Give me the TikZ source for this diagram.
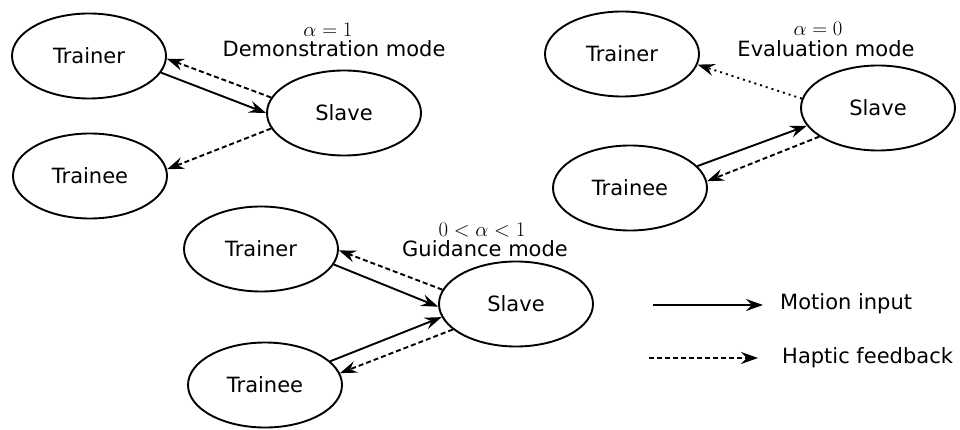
\documentclass[tikz,border=0pt]{standalone}
\usepackage{fontspec}
\setmainfont{DejaVu Sans}
\usetikzlibrary{shapes.geometric,arrows.meta}
\begin{document}
\begin{tikzpicture}[x=1pt,y=-1pt,
  txt/.style={font=\fontsize{21}{25}\selectfont},
  party/.style={ellipse,draw,line width=1.9pt,inner sep=0pt,
    minimum width=154pt,minimum height=85pt,txt},
  tip/.style={-{Stealth[length=17pt,width=12pt,inset=6pt]}},
  motion/.style={tip,line width=1.9pt},
  haptic/.style={tip,line width=1.9pt,dash pattern=on 5pt off 3pt},
  hapticdot/.style={tip,line width=1.9pt,dash pattern=on 2pt off 4pt},
  modelabel/.style={txt,align=center,inner sep=0pt}]
\useasboundingbox (0,0) rectangle (960,430);

% Demonstration mode
\node[party] (dtr) at (89,56) {Trainer};
\node[party] (dsl) at (344,113) {Slave};
\node[party] (dte) at (90,176) {Trainee};
\node[modelabel] (dal) at (328,30) {$\alpha=1$};
\node[modelabel] (dml) at (334,49) {Demonstration mode};
\draw[motion] (dtr.-13) -- (dsl.180);
\draw[haptic] (dsl.168) -- (dtr.-2);
\draw[haptic] (dsl.192) -- (dte.5);

% Evaluation mode
\node[party] (etr) at (622,54) {Trainer};
\node[party] (esl) at (878,108) {Slave};
\node[party] (ete) at (630,188) {Trainee};
\node[modelabel] (eal) at (818,29) {$\alpha=0$};
\node[modelabel] (eml) at (826,49) {Evaluation mode};
\draw[hapticdot] (esl.173) -- (etr.-8);
\draw[motion] (ete.18) -- (esl.194);
\draw[haptic] (esl.206) -- (ete.5);

% Guidance mode
\node[party] (gtr) at (261,249) {Trainer};
\node[party] (gsl) at (516,304) {Slave};
\node[party] (gte) at (265,385) {Trainee};
\node[modelabel] (gal) at (482,230) {$0<\alpha<1$};
\node[modelabel] (gml) at (485,249) {Guidance mode};
\draw[haptic] (gsl.169) -- (gtr.-1);
\draw[motion] (gtr.-12) -- (gsl.182);
\draw[motion] (gte.20) -- (gsl.190);
\draw[haptic] (gsl.202) -- (gte.9);

% Legend
\coordinate (m1) at (653,305);
\coordinate (m2) at (763,305);
\coordinate (h1) at (649,358);
\coordinate (h2) at (758,358);
\draw[motion] (m1) -- (m2);
\draw[haptic] (h1) -- (h2);
\node[txt,anchor=west,inner sep=0pt] (ml) at (780,304) {Motion input};
\node[txt,anchor=west,inner sep=0pt] (hl) at (782,358) {Haptic feedback};
\end{tikzpicture}
\end{document}
